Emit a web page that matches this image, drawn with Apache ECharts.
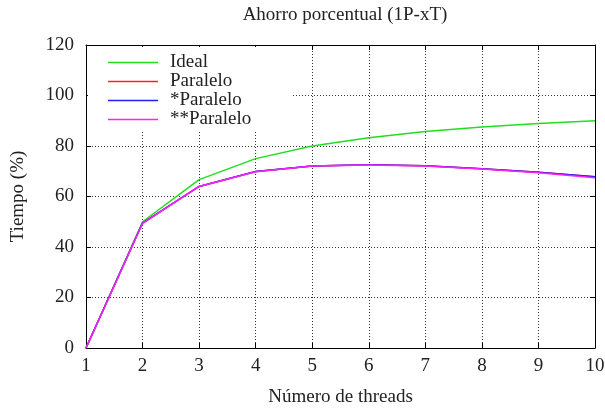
<!DOCTYPE html>
<html>
<head>
<meta charset="utf-8">
<script src="https://cdn.jsdelivr.net/npm/echarts@6/dist/echarts.min.js"></script>
<style>
  html, body { margin: 0; padding: 0; background: #fff; }
  #main { width: 605px; height: 408px; }
</style>
</head>
<body>
<div id="main"></div>
<script>
// threads 1..10
var threads = [1, 2, 3, 4, 5, 6, 7, 8, 9, 10];
// ahorro porcentual (%)
var ideal = [0, 50, 66.7, 75, 80, 83.3, 85.7, 87.5, 88.9, 90];
var paralelo = [0, 49.5, 64.0, 69.9, 72.1, 72.6, 72.2, 71.0, 69.6, 67.8];
var paraleloA = [0, 49.5, 64.0, 69.9, 72.1, 72.6, 72.2, 71.0, 69.6, 67.8];
var paraleloB = [0, 49.4, 64.0, 69.8, 72.1, 72.5, 72.1, 70.9, 69.4, 67.4];

var FONT = 'Liberation Serif';
var FS = 19;

function pts(arr) {
  var out = [];
  for (var i = 0; i < threads.length; i++) out.push([threads[i], arr[i]]);
  return out;
}
function serie(name, data, color) {
  return {
    name: name, type: 'line', data: pts(data),
    symbol: 'none', showSymbol: false,
    lineStyle: { color: color, width: 1.5 },
    itemStyle: { color: color },
    emphasis: { disabled: true },
    z: 3
  };
}

var chart = echarts.init(document.getElementById('main'));
var gridLine = { show: true, lineStyle: { color: '#333', type: [1, 2], width: 1 } };
var option = {
  animation: false,
  backgroundColor: '#fff',
  textStyle: { fontFamily: FONT },
  title: {
    text: 'Ahorro porcentual (1P-xT)',
    left: 340, top: 1, textAlign: 'center',
    textStyle: { fontFamily: FONT, fontSize: FS, fontWeight: 'normal', color: '#222' }
  },
  legend: {
    orient: 'vertical', left: 88, top: 47,
    padding: [6, 40, 3, 20],
    backgroundColor: '#fff',
    itemWidth: 50, itemHeight: 14, itemGap: 0,
    icon: 'path://M0,0 L50,0 L50,1.5 L0,1.5 Z',
    textStyle: { fontFamily: FONT, fontSize: FS, color: '#222', padding: [0, 0, 0, 7] },
    data: ['Ideal', 'Paralelo', '*Paralelo', '**Paralelo'],
    z: 10
  },
  grid: { left: 86, right: 10, top: 45, bottom: 60, containLabel: false, outerBoundsMode: 'none' },
  xAxis: [{
    type: 'value', min: 1, max: 10, interval: 1,
    name: 'Número de threads', nameLocation: 'middle', nameGap: 40,
    nameTextStyle: { fontFamily: FONT, fontSize: FS, color: '#222' },
    axisLine: { show: true, lineStyle: { color: '#000', width: 1 } },
    axisTick: { show: true, inside: true, length: 5, lineStyle: { color: '#000' } },
    axisLabel: { fontFamily: FONT, fontSize: FS, color: '#222', margin: 9 },
    splitLine: gridLine
  }, {
    type: 'value', min: 1, max: 10, interval: 1, position: 'top',
    axisLine: { show: true, onZero: false, lineStyle: { color: '#000', width: 1 } },
    axisTick: { show: true, inside: true, length: 5, lineStyle: { color: '#000' } },
    axisLabel: { show: false }, splitLine: { show: false }
  }],
  yAxis: [{
    type: 'value', min: 0, max: 120, interval: 20,
    name: 'Tiempo (%)', nameLocation: 'middle', nameGap: 58,
    nameTextStyle: { fontFamily: FONT, fontSize: FS, color: '#222' },
    axisLine: { show: true, lineStyle: { color: '#000', width: 1 } },
    axisTick: { show: true, inside: true, length: 5, lineStyle: { color: '#000' } },
    axisLabel: { fontFamily: FONT, fontSize: FS, color: '#222', margin: 12 },
    splitLine: gridLine
  }, {
    type: 'value', min: 0, max: 120, interval: 20, position: 'right',
    axisLine: { show: true, onZero: false, lineStyle: { color: '#000', width: 1 } },
    axisTick: { show: true, inside: true, length: 5, lineStyle: { color: '#000' } },
    axisLabel: { show: false }, splitLine: { show: false }
  }],
  series: [
    serie('Ideal', ideal, '#22dd22'),
    serie('Paralelo', paralelo, '#ff2020'),
    serie('*Paralelo', paraleloA, '#2020ff'),
    serie('**Paralelo', paraleloB, '#ff20ff')
  ]
};
chart.setOption(option);
</script>
</body>
</html>
